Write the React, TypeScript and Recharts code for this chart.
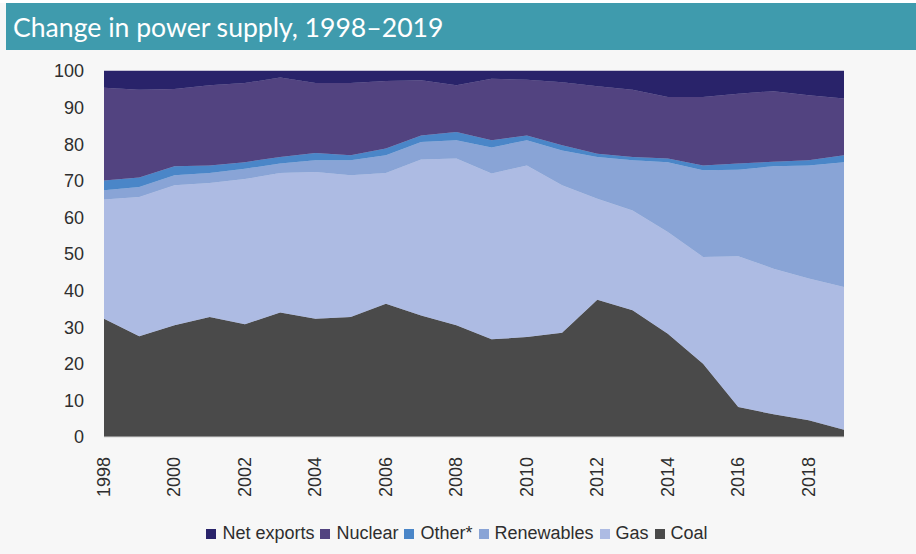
import { AreaChart, Area, XAxis, YAxis } from 'recharts';

const years = [
  1998, 1999, 2000, 2001, 2002, 2003, 2004, 2005, 2006, 2007, 2008,
  2009, 2010, 2011, 2012, 2013, 2014, 2015, 2016, 2017, 2018, 2019,
];
const yearTicks = [1998, 2000, 2002, 2004, 2006, 2008, 2010, 2012, 2014, 2016, 2018];
const valueTicks = [0, 10, 20, 30, 40, 50, 60, 70, 80, 90, 100];

// shares of supply, %
const coal = [32.3, 27.5, 30.5, 32.8, 30.8, 34, 32.3, 32.8, 36.4, 33.2, 30.5, 26.7, 27.3, 28.5, 37.5, 34.6, 28.2, 20, 8.2, 6.2, 4.6, 2];
const gas = [32.6, 38.1, 38.3, 36.6, 39.7, 38.1, 40.1, 38.7, 35.7, 42.6, 45.6, 45.3, 46.9, 40.3, 27.6, 27.3, 27.8, 29.2, 41.2, 39.8, 38.7, 39];
const renewables = [2.5, 2.7, 2.7, 2.7, 2.8, 2.6, 3.2, 4.1, 4.9, 4.8, 5, 7.1, 6.9, 9.5, 11.4, 13.7, 19.1, 23.7, 23.6, 28, 30.9, 34.1];
const other = [2.7, 2.6, 2.5, 2.1, 1.8, 1.8, 2, 1.4, 1.8, 1.8, 2.2, 2, 1.3, 1.4, 0.9, 0.9, 1, 1.3, 1.7, 1.2, 1.4, 1.9];
const nuclear = [25.3, 24, 21.1, 21.9, 21.6, 21.7, 19.1, 19.7, 18.5, 15.1, 12.8, 16.8, 15.2, 17.2, 18.4, 18.4, 16.8, 18.7, 19.1, 19.3, 17.8, 15.5];
const netExports = [4.6, 5.1, 4.9, 3.9, 3.3, 1.8, 3.3, 3.3, 2.7, 2.5, 3.9, 2.1, 2.4, 3.1, 4.2, 5.1, 7.1, 7.1, 6.2, 5.5, 6.6, 7.5];

const series = [
  { key: 'coal', name: 'Coal', color: '#4a4a4a' },
  { key: 'gas', name: 'Gas', color: '#adbbe3' },
  { key: 'renewables', name: 'Renewables', color: '#89a4d6' },
  { key: 'other', name: 'Other*', color: '#4a86c8' },
  { key: 'nuclear', name: 'Nuclear', color: '#524380' },
  { key: 'netExports', name: 'Net exports', color: '#29236a' },
];

const data = years.map((year, i) => ({
  year,
  coal: coal[i],
  gas: gas[i],
  renewables: renewables[i],
  other: other[i],
  nuclear: nuclear[i],
  netExports: netExports[i],
}));

const FONT = '"Liberation Sans", Arial, Helvetica, sans-serif';
const TEXT = '#2e2e2e';

const YearTick = ({ x, y, payload }: any) => (
  <text
    x={x}
    y={y}
    transform={`rotate(-90 ${x} ${y})`}
    textAnchor="end"
    dominantBaseline="central"
    fill={TEXT}
    fontSize={18}
    fontFamily={FONT}
  >
    {payload.value}
  </text>
);

export default function App() {
  const legendItems = [...series].reverse();
  return (
    <div
      style={{
        position: 'absolute',
        left: 0,
        top: 0,
        width: 916,
        height: 554,
        background: '#f7f7f7',
        overflow: 'hidden',
      }}
    >
      <div style={{ position: 'absolute', left: 0, top: 0, width: 916, height: 3, background: '#ffffff' }} />
      <div
        style={{
          position: 'absolute',
          left: 6,
          top: 3,
          width: 910,
          height: 47,
          background: '#3f9bad',
          color: '#ffffff',
          fontFamily: 'Lato, "Open Sans", sans-serif',
          fontSize: 26.6,
          lineHeight: '49px',
          paddingLeft: 7,
          boxSizing: 'border-box',
        }}
      >
        Change in power supply, 1998–2019
      </div>

      <div style={{ position: 'absolute', left: 0, top: 0 }}>
        <AreaChart
          width={916}
          height={554}
          data={data}
          margin={{ top: 71, right: 72, left: 44, bottom: 47 }}
        >
          <XAxis
            dataKey="year"
            type="number"
            domain={[1998, 2019]}
            ticks={yearTicks}
            interval={0}
            height={70}
            tickLine={false}
            tickSize={0}
            tickMargin={20}
            axisLine={{ stroke: '#d4d4d4' }}
            tick={<YearTick />}
          />
          <YAxis
            type="number"
            domain={[0, 100]}
            ticks={valueTicks}
            interval={0}
            width={60}
            axisLine={false}
            tickLine={false}
            tickSize={0}
            tickMargin={20}
            tick={{ fill: TEXT, fontSize: 18, fontFamily: FONT }}
          />
          {series.map((s) => (
            <Area
              key={s.key}
              type="linear"
              dataKey={s.key}
              name={s.name}
              stackId="1"
              stroke={s.color}
              strokeWidth={0.5}
              fill={s.color}
              fillOpacity={1}
              isAnimationActive={false}
            />
          ))}
        </AreaChart>
      </div>

      <div
        style={{
          position: 'absolute',
          left: 0,
          top: 523,
          width: 916,
          display: 'flex',
          justifyContent: 'center',
          alignItems: 'center',
          fontFamily: FONT,
          fontSize: 18,
          color: TEXT,
          paddingLeft: 4,
          boxSizing: 'border-box',
        }}
      >
        {legendItems.map((s) => (
          <div key={s.key} style={{ display: 'flex', alignItems: 'center', marginRight: 6 }}>
            <span
              style={{
                display: 'inline-block',
                width: 10,
                height: 10,
                background: s.color,
                marginRight: 6,
              }}
            />
            <span>{s.name}</span>
          </div>
        ))}
      </div>
    </div>
  );
}
